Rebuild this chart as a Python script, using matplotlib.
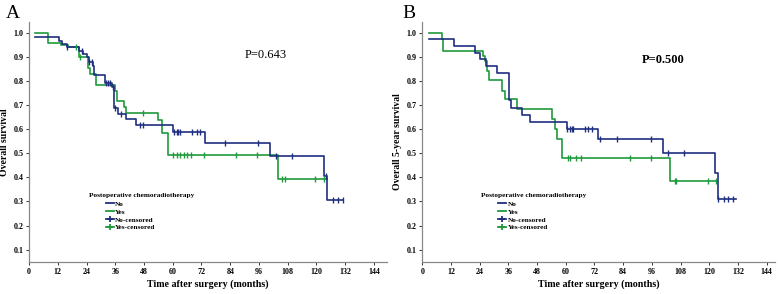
import numpy as np
import matplotlib
matplotlib.use("Agg")
import matplotlib.pyplot as plt
from matplotlib.lines import Line2D

plt.rcParams['font.family'] = ['Liberation Serif', 'DejaVu Serif']

# ---------------- Data ----------------
# Panel A: step start times and survival levels; last time = end of curve
A_no_t = [2.5, 12.7, 13.6, 15.7, 20.9, 22.7, 24.3, 25.2, 26.6, 27.3, 31.7, 34.6,
          35.6, 37.3, 40.3, 44.6, 60.0, 73.6, 100.6, 123.3, 124.4, 131.2]
A_no_s = [0.983, 0.964, 0.952, 0.94, 0.925, 0.912, 0.90, 0.88, 0.86, 0.826, 0.79, 0.775,
          0.686, 0.664, 0.642, 0.615, 0.586, 0.541, 0.49, 0.407, 0.305, 0.305]
A_no_cens = [15.7, 22.0, 25.2, 26.1, 32.1, 33.1, 33.8, 34.9, 35.9, 38.2, 46.3, 47.4,
             60.5, 61.6, 62.3, 63.0, 67.9, 70.0, 71.4, 81.8, 95.7, 103.0, 109.6,
             124.1, 127.0, 129.1, 130.9]

A_yes_t = [2.5, 7.8, 13.2, 16.4, 20.9, 24.8, 25.5, 28.0, 35.9, 36.6, 39.6, 40.5,
           54.0, 55.4, 58.1, 104.0, 124.3]
A_yes_s = [1.0, 0.959, 0.95, 0.94, 0.898, 0.852, 0.829, 0.783, 0.76, 0.717, 0.69, 0.666,
           0.638, 0.583, 0.494, 0.394, 0.394]
A_yes_cens = [19.6, 21.3, 47.7, 60.0, 61.8, 63.2, 64.6, 66.0, 67.8, 72.9, 86.5, 95.3,
              105.7, 106.7, 119.4, 123.1]

# Panel B
B_no_t = [2.8, 13.4, 22.0, 24.1, 26.5, 31.1, 36.4, 37.0, 41.5, 45.0, 60.4, 73.6,
          100.5, 122.4, 123.8, 131.2]
B_no_s = [0.972, 0.944, 0.917, 0.889, 0.861, 0.834, 0.72, 0.689, 0.658, 0.629, 0.602,
          0.557, 0.502, 0.419, 0.312, 0.312]
B_no_cens = [60.6, 61.8, 62.5, 63.2, 68.0, 69.4, 70.8, 74.3, 81.5, 95.5, 102.8, 109.4,
             123.8, 126.3, 128.0, 129.8]

B_yes_t = [2.8, 8.1, 8.8, 25.5, 26.3, 27.2, 27.9, 33.4, 34.5, 39.5, 54.3, 55.5, 56.5,
           58.3, 103.8, 123.1]
B_yes_s = [1.0, 0.972, 0.924, 0.903, 0.882, 0.841, 0.802, 0.76, 0.723, 0.682, 0.64, 0.60,
           0.56, 0.481, 0.383, 0.383]
B_yes_cens = [60.9, 61.9, 64.4, 66.5, 86.8, 95.5, 105.6, 106.3, 119.6, 122.8]

x_ticks = [0, 12, 24, 36, 48, 60, 72, 84, 96, 108, 120, 132, 144]
y_ticks = [0.1, 0.2, 0.3, 0.4, 0.5, 0.6, 0.7, 0.8, 0.9, 1.0]
legend_title = "Postoperative chemoradiotherapy"
legend_labels = ["No", "Yes", "No-censored", "Yes-censored"]

BLUE = '#1f2f7f'
GREEN = '#1f9a3c'


def level_at(ts, ss, t):
    idx = np.searchsorted(np.asarray(ts), t, side='right') - 1
    idx = np.clip(idx, 0, len(ss) - 1)
    return np.asarray(ss)[idx]


def draw_panel(ax, no_t, no_s, no_c, yes_t, yes_s, yes_c, ylabel, ptext, pxy, pbold, xmax):
    ax.step(yes_t, yes_s, where='post', color=GREEN, lw=1.2, zorder=2)
    ax.step(no_t, no_s, where='post', color=BLUE, lw=1.2, zorder=3)
    ax.plot(yes_c, level_at(yes_t, yes_s, yes_c), ls='none', marker='|', ms=4,
            mew=1.0, color=GREEN, zorder=4)
    ax.plot(no_c, level_at(no_t, no_s, no_c), ls='none', marker='|', ms=4,
            mew=1.0, color=BLUE, zorder=5)
    ax.set_xlim(0, xmax)
    ax.set_ylim(0.049, 1.044)
    ax.set_xticks(x_ticks)
    ax.set_yticks(y_ticks)
    ax.set_xticklabels([str(v) for v in x_ticks], fontsize=5.8, fontweight='bold')
    ax.set_yticklabels(['%.1f' % v for v in y_ticks], fontsize=5.8, fontweight='bold')
    ax.tick_params(axis='both', length=2.5, width=0.7, pad=1.5, color='#333333')
    for s in ['top', 'right']:
        ax.spines[s].set_visible(False)
    for s in ['left', 'bottom']:
        ax.spines[s].set_color('#888888')
        ax.spines[s].set_linewidth(0.9)
    ax.set_xlabel("Time after surgery (months)", fontsize=7.2, fontweight='bold', labelpad=3)
    ax.set_ylabel(ylabel, fontsize=7, fontweight='bold', labelpad=3)
    ax.text(pxy[0], pxy[1], ptext, fontsize=9, ha='center', va='center',
            fontweight='bold' if pbold else 'normal')
    ax.text(0.167, 0.279, legend_title, transform=ax.transAxes, fontsize=5.2,
            fontweight='bold', va='center', ha='left')
    handles = [Line2D([], [], color=BLUE, lw=1.3),
               Line2D([], [], color=GREEN, lw=1.3),
               Line2D([], [], color=BLUE, lw=1.3, marker='+', ms=5, mew=1.3),
               Line2D([], [], color=GREEN, lw=1.3, marker='+', ms=5, mew=1.3)]
    ax.legend(handles, legend_labels, loc='upper left', bbox_to_anchor=(0.215, 0.255),
              frameon=False, prop={'size': 5.2, 'weight': 'bold'},
              handlelength=1.1, handletextpad=0.2, labelspacing=0.25,
              borderpad=0, borderaxespad=0)


fig = plt.figure(figsize=(7.78, 2.94), dpi=100)
axA = fig.add_axes([0.0373, 0.109, 0.460, 0.816])
axB = fig.add_axes([0.5428, 0.109, 0.453, 0.816])

draw_panel(axA, A_no_t, A_no_s, A_no_cens, A_yes_t, A_yes_s, A_yes_cens,
           "Overall survival", "P=0.643", (98.9, 0.907), False, 149.4)
draw_panel(axB, B_no_t, B_no_s, B_no_cens, B_yes_t, B_yes_s, B_yes_cens,
           "Overall 5-year survival", "P=0.500", (100.6, 0.885), True, 147.4)

fig.text(0.007, 0.94, "A", fontsize=14, ha='left', va='baseline')
fig.text(0.517, 0.94, "B", fontsize=14, ha='left', va='baseline')

fig.savefig("out.png", dpi=100)
